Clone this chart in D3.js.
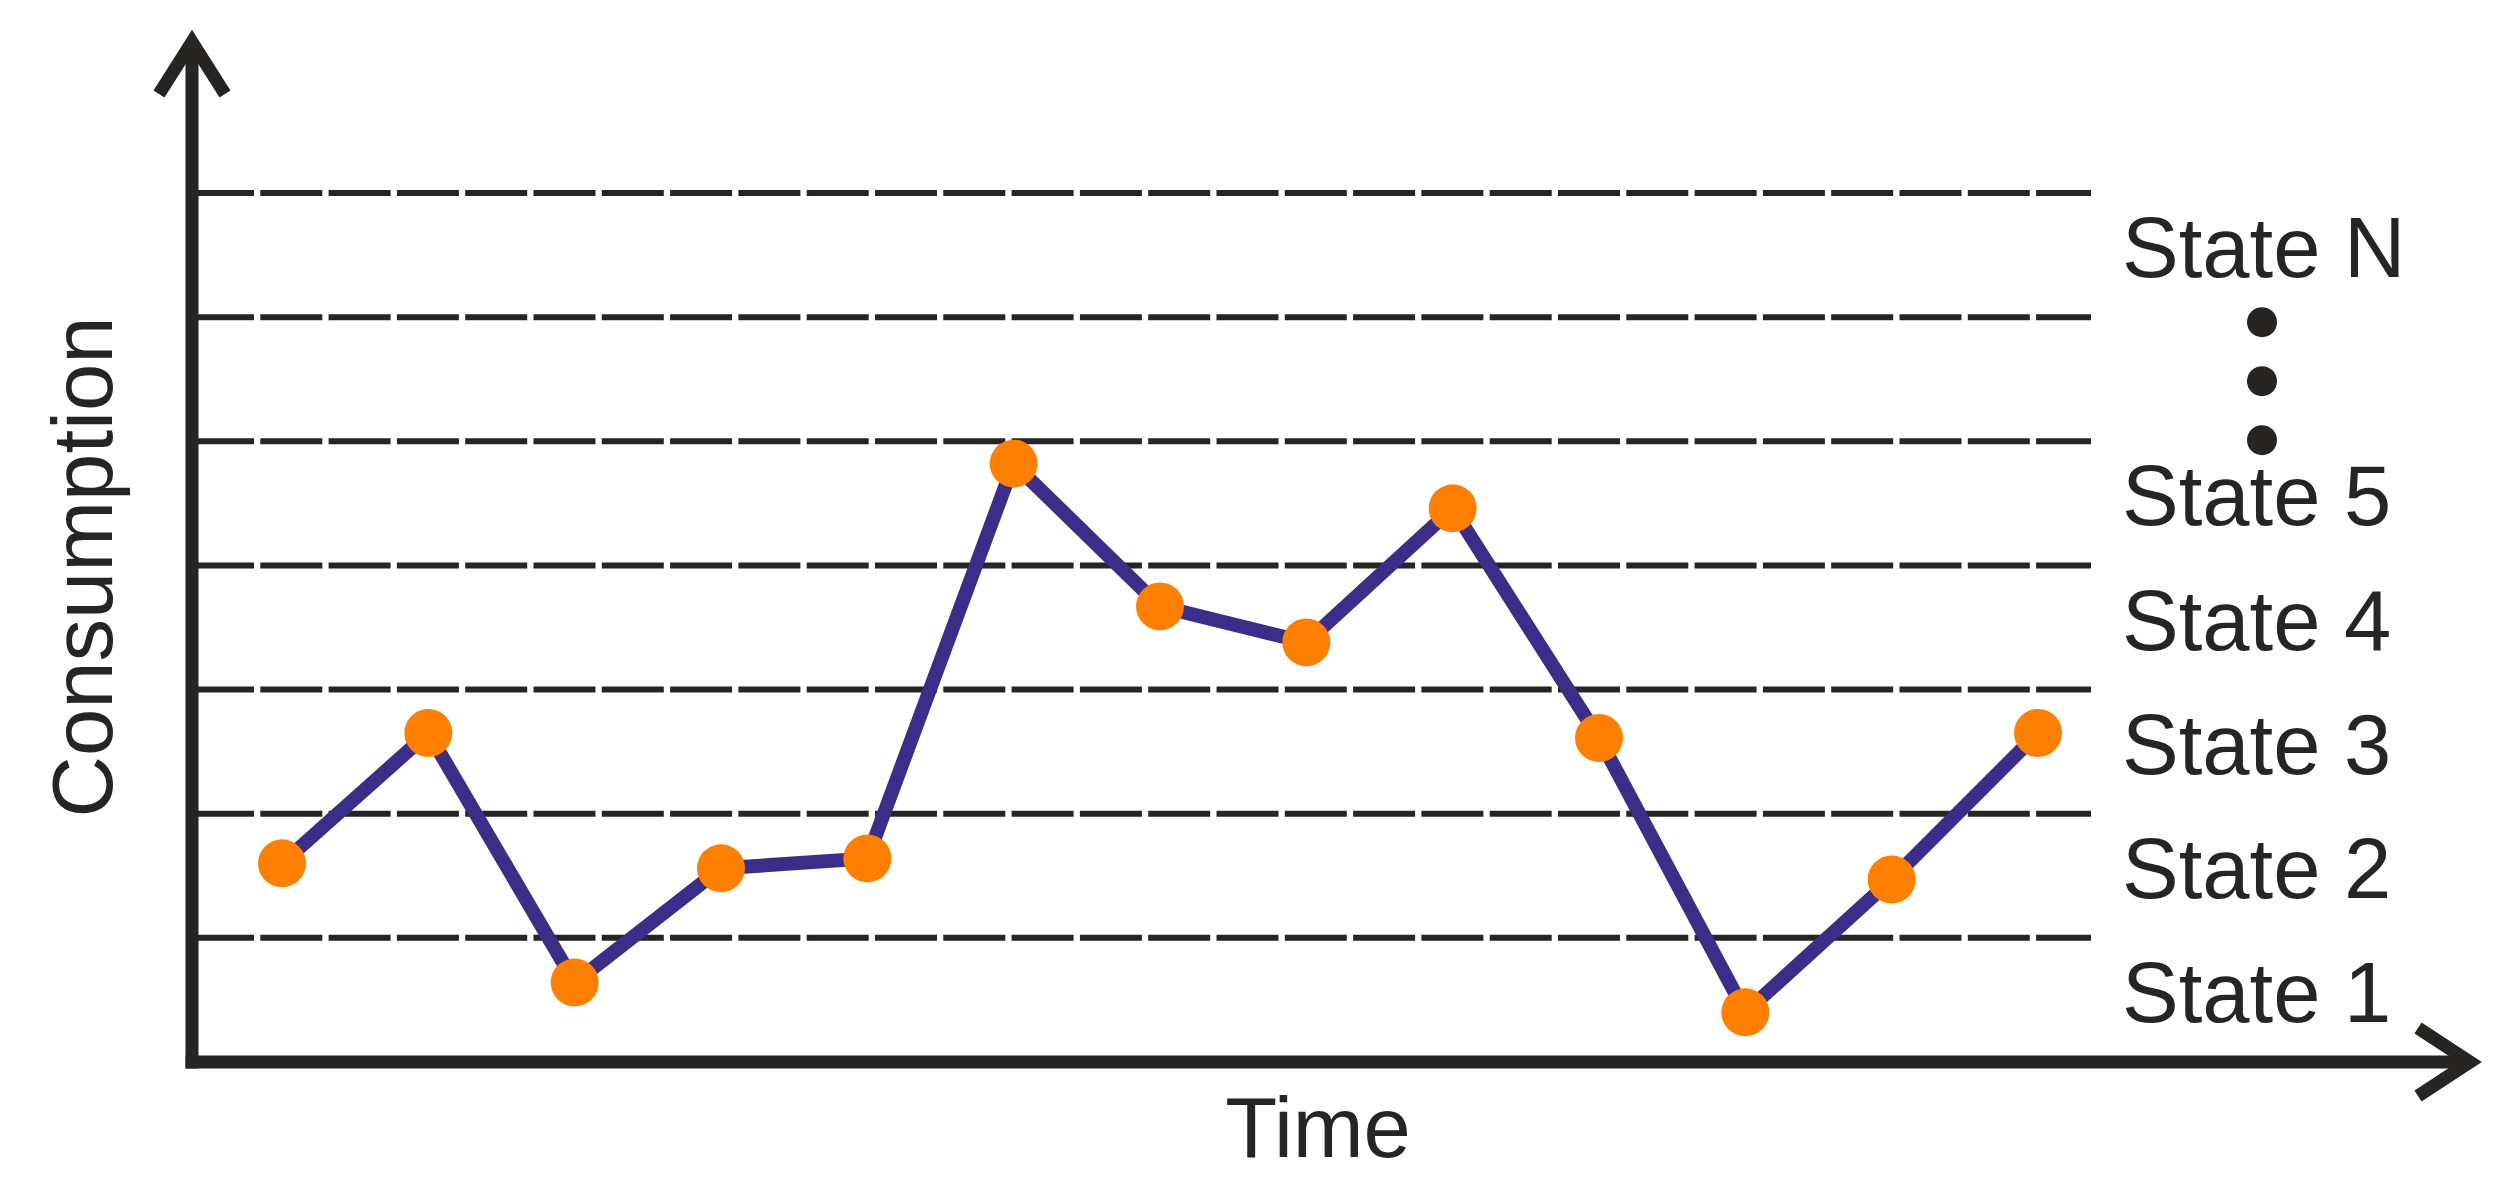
<!DOCTYPE html>
<html>
<head>
<meta charset="utf-8">
<script src="https://cdn.jsdelivr.net/npm/d3@7"></script>
<style>
  html, body { margin: 0; padding: 0; background: #ffffff; }
  svg { display: block; }
  text { font-family: "Liberation Sans", Arial, sans-serif; fill: #272523; }
</style>
</head>
<body>
<svg id="chart" width="2520" height="1197"></svg>
<script>
// ---- data ----
const timeSteps = [1, 2, 3, 4, 5, 6, 7, 8, 9, 10, 11, 12, 13];
const consumption = [1.60, 2.65, 0.64, 1.56, 1.64, 4.82, 3.67, 3.38, 4.46, 2.61, 0.40, 1.47, 2.65];
const stateLevels = [1, 2, 3, 4, 5, 6, 7];           // dashed boundaries
const stateLabels = ["State 1", "State 2", "State 3", "State 4", "State 5", "", "State N"];
const ellipsisBand = 6;                              // band drawn as vertical dots
const ellipsisDots = [-1, 0, 1];
const xAxisTitle = "Time";
const yAxisTitle = "Consumption";

// ---- layout ----
const ink = "#272523";
const svg = d3.select("#chart");
const axisX0 = 192, axisY0 = 1062;
const x = d3.scaleLinear().domain([1, 13]).range([282, 2038]);
const y = d3.scaleLinear().domain([0, 7]).range([axisY0, 193]);
const gridEnd = 2091;
const xAxisEnd = 2470;
const yAxisEnd = 42;

// dashed state boundaries
svg.append("g").selectAll("line").data(stateLevels).join("line")
  .attr("x1", axisX0).attr("x2", gridEnd)
  .attr("y1", d => y(d)).attr("y2", d => y(d))
  .attr("stroke", ink).attr("stroke-width", 6)
  .attr("stroke-dasharray", "62,6.3");

// axes with arrow heads
const axes = svg.append("g").attr("fill", "none").attr("stroke", ink)
  .attr("stroke-width", 13).attr("stroke-linejoin", "miter").attr("stroke-miterlimit", 10);
axes.append("line").attr("x1", axisX0).attr("x2", axisX0)
  .attr("y1", axisY0 + 6.5).attr("y2", yAxisEnd);
axes.append("line").attr("x1", axisX0 - 6.5).attr("x2", xAxisEnd)
  .attr("y1", axisY0).attr("y2", axisY0);
axes.append("path").attr("d", d3.line()([[axisX0 - 33, yAxisEnd + 52], [axisX0, yAxisEnd], [axisX0 + 33, yAxisEnd + 52]]));
axes.append("path").attr("d", d3.line()([[xAxisEnd - 52, axisY0 - 34], [xAxisEnd, axisY0], [xAxisEnd - 52, axisY0 + 34]]));

// data line
const pts = timeSteps.map((t, i) => [t, consumption[i]]);
svg.append("path")
  .attr("d", d3.line().x(d => x(d[0])).y(d => y(d[1]))(pts))
  .attr("fill", "none").attr("stroke", "#3b2e88").attr("stroke-width", 14)
  .attr("stroke-linejoin", "miter");

svg.append("g").selectAll("circle").data(pts).join("circle")
  .attr("cx", d => x(d[0])).attr("cy", d => y(d[1])).attr("r", 24)
  .attr("fill", "#ff7f00");

// state labels
const labelX = 2122;
svg.append("g").selectAll("text").data(stateLabels.map((s, i) => ({ s, band: i + 1 })).filter(d => d.s))
  .join("text")
  .attr("x", labelX).attr("y", d => y(d.band - 0.5) + 22)
  .attr("font-size", 85).text(d => d.s);

// ellipsis dots
svg.append("g").selectAll("circle").data(ellipsisDots).join("circle")
  .attr("cx", 2262).attr("cy", d => y(ellipsisBand - 0.5) + d * 59 + 2).attr("r", 15)
  .attr("fill", ink);

// axis titles
svg.append("text").attr("x", 1318).attr("y", 1157).attr("text-anchor", "middle")
  .attr("font-size", 85).text(xAxisTitle);
svg.append("text").attr("transform", "translate(112,567) rotate(-90)")
  .attr("text-anchor", "middle").attr("font-size", 85).text(yAxisTitle);
</script>
</body>
</html>
